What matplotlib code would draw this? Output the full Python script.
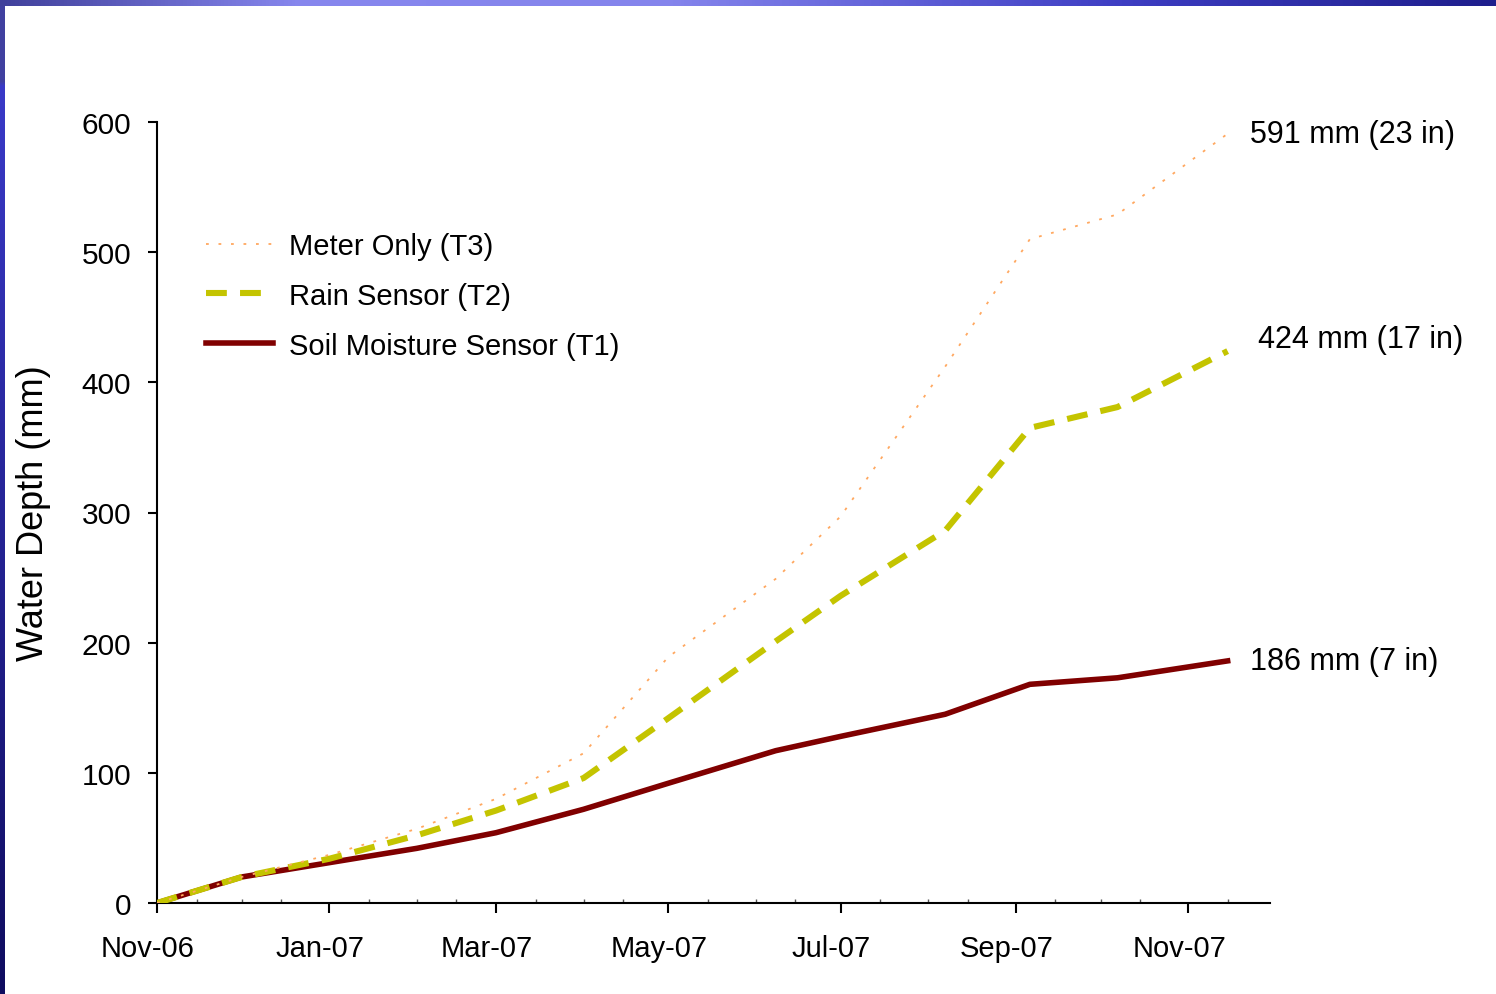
import numpy as np
import pandas as pd
import matplotlib
matplotlib.use("Agg")
import matplotlib.pyplot as plt
import matplotlib.dates as mdates
from matplotlib.transforms import ScaledTranslation

plt.rcParams['font.family'] = ['Liberation Sans', 'DejaVu Sans']
plt.rcParams['lines.scale_dashes'] = False

# cumulative irrigation depth per treatment (mm)
dates = pd.to_datetime(['2006-11-01', '2006-12-01', '2007-01-01', '2007-02-01',
                        '2007-03-01', '2007-04-01', '2007-05-01', '2007-06-08',
                        '2007-07-01', '2007-08-07', '2007-09-06', '2007-10-07',
                        '2007-11-15'])
meter_only = [0, 20, 37, 57, 80, 115, 189, 249, 297, 412, 510, 529, 591]
rain_sensor = [0, 20, 34, 52, 71, 96, 142, 201, 236, 286, 365, 381, 424]
soil_moisture = [0, 20, 31, 42, 54, 72, 92, 117, 128, 145, 168, 173, 186]

labels = ['Meter Only (T3)', 'Rain Sensor (T2)', 'Soil Moisture Sensor (T1)']

fig = plt.figure(figsize=(14.96, 9.95), dpi=100)

# slide frame: thin gradient bands along top and left edge
top = fig.add_axes([0, 1 - 7 / 995, 1, 7 / 995])
xs = np.linspace(0, 1, 400)
stops_x = [0.0, 0.2, 0.45, 0.75, 1.0]
stops_c = np.array([[64, 64, 155], [135, 135, 238], [132, 132, 236],
                    [62, 62, 195], [30, 30, 140]]) / 255
grad = np.stack([np.interp(xs, stops_x, stops_c[:, i]) for i in range(3)], axis=-1)
top.imshow(grad[None, :, :], aspect='auto', extent=[0, 1, 0, 1])
top.axis('off')

left = fig.add_axes([0, 0, 5 / 1496, 1 - 7 / 995])
ys = np.linspace(0, 1, 400)
stops_y = [0.0, 0.92, 0.925, 1.0]
stops_cy = np.array([[15, 12, 95], [58, 58, 200], [64, 64, 160], [64, 64, 160]]) / 255
grad_y = np.stack([np.interp(ys, stops_y, stops_cy[:, i]) for i in range(3)], axis=-1)
left.imshow(grad_y[::-1, None, :], aspect='auto', extent=[0, 1, 0, 1])
left.axis('off')

ax = fig.add_axes([157 / 1496, 91 / 995, 1113 / 1496, 781 / 995])

l1, = ax.plot(dates, soil_moisture, color='#800000', lw=4.0, label=labels[2],
              solid_joinstyle='round', zorder=2)
l2, = ax.plot(dates, rain_sensor, color='#C4C400', lw=4.4, dashes=(15, 9.5),
              dash_capstyle='butt', label=labels[1], zorder=3)
l3, = ax.plot(dates, meter_only, color='#FFA860', lw=1.3, dashes=(2, 7),
              label=labels[0], zorder=4)

# end-of-season totals in mm and inches
for vals, dx, dy in [(meter_only, 16, 0), (rain_sensor, 22, 9), (soil_moisture, 16, 0)]:
    v = vals[-1]
    ax.annotate(f"{v:.0f} mm ({v / 25.4:.0f} in)", xy=(dates[-1], v),
                xytext=(dx, dy), textcoords='offset points',
                fontsize=22, va='center', ha='left', annotation_clip=False)

ax.set_ylim(0, 600)
ax.set_xlim(pd.Timestamp('2006-11-01'), pd.Timestamp('2007-11-30'))
ax.set_yticks(range(0, 601, 100))
ax.xaxis.set_major_locator(mdates.MonthLocator(bymonth=[1, 3, 5, 7, 9, 11]))
ax.xaxis.set_major_formatter(mdates.DateFormatter('%b-%y'))
ax.xaxis.set_minor_locator(mdates.DayLocator(bymonthday=[1, 15]))

for side in ['top', 'right']:
    ax.spines[side].set_visible(False)
for side in ['left', 'bottom']:
    ax.spines[side].set_linewidth(1.5)

ax.tick_params(axis='y', which='major', direction='out', length=6.5, width=1.5,
               labelsize=21.5, pad=12)
ax.tick_params(axis='x', which='major', direction='out', length=7.5, width=1.5,
               labelsize=21, pad=15)
ax.tick_params(axis='x', which='minor', direction='in', length=3, width=1,
               color='#555555')

shift = ScaledTranslation(-9 / 100, 0, fig.dpi_scale_trans)
for lbl in ax.get_xticklabels():
    lbl.set_transform(lbl.get_transform() + shift)

ax.set_ylabel('Water Depth (mm)', fontsize=26)
ax.yaxis.set_label_coords(-0.095, 0.5)

ax.legend(handles=[l3, l2, l1], loc='upper left', bbox_to_anchor=(0.02, 0.893),
          frameon=False, fontsize=21, handlelength=2.3, handletextpad=0.55,
          labelspacing=0.75)

fig.savefig('out.png', dpi=100)
